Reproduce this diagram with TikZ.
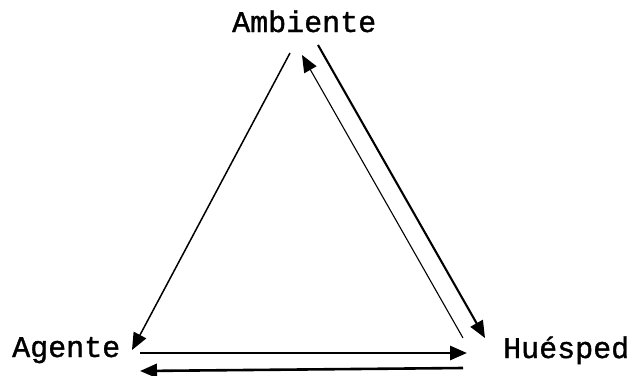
\documentclass[tikz,border=0pt]{standalone}
\usepackage{fontspec}
\newfontfamily\typed{Liberation Mono}[FakeBold=1.2]
\usetikzlibrary{arrows.meta}
\begin{document}
\begin{tikzpicture}[x=1pt, y=1pt,
		lbl/.style={anchor=base west, inner sep=0pt, font=\typed\fontsize{30}{34}\selectfont},
		arr/.style={-{Triangle[length=17pt, width=14pt]}}]
	\useasboundingbox (0,-375) rectangle (634,0);
	\node[lbl] (amb) at (232,-32) {Ambiente};
	\node[lbl] (age) at (12,-357) {Agente};
	\node[lbl] (hue) at (503,-358) {Huésped};
	\draw[arr, line width=1.5pt] ([shift={(58,-21)}]amb.base west) -- ([shift={(120,7)}]age.base west);
	\draw[arr, line width=2.1pt] ([shift={(86,-13)}]amb.base west) -- ([shift={(-18,20)}]hue.base west);
	\draw[arr, line width=1.1pt] ([shift={(-40,20)}]hue.base west) -- ([shift={(70,-23)}]amb.base west);
	\draw[arr, line width=2.8pt] ([shift={(128,4)}]age.base west) -- ([shift={(-36,5)}]hue.base west);
	\draw[arr, line width=2.6pt] ([shift={(-40,-10)}]hue.base west) -- ([shift={(128,-14)}]age.base west);
\end{tikzpicture}
\end{document}
